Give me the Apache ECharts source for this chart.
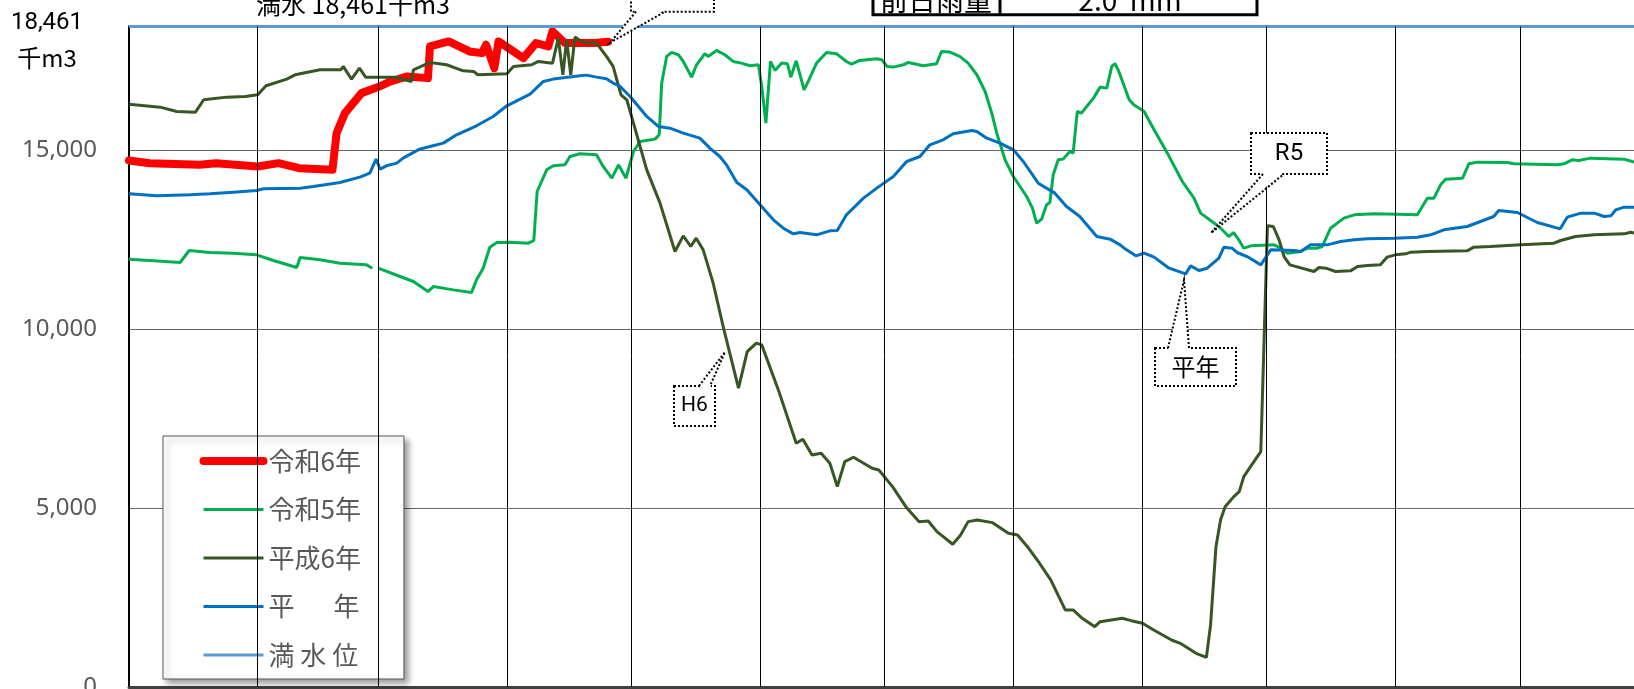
<!DOCTYPE html>
<html>
<head>
<meta charset="utf-8">
<title>貯水量</title>
<script src="https://cdn.jsdelivr.net/npm/echarts/dist/echarts.min.js"></script>
<style>
  html, body { margin: 0; padding: 0; background: #fff; }
  #main { width: 1634px; height: 689px; }
</style>
</head>
<body>
<div id="main"></div>
<script>
// 日（1/1 = 0）と貯水量（千m3）
const fullStorage = 18461;
const monthStarts = [31, 60, 91, 121, 152, 182, 213, 244, 274, 305, 335];
const yTicks = [0, 5000, 10000, 15000];

// 令和6年
const r6Day = [0, 5, 17, 21, 31, 36, 41, 49, 50, 52, 56, 60, 63, 67, 72, 72.5, 77, 82, 85, 86, 88, 89, 95, 98, 101, 102, 105, 112, 115.4];
const r6Val = [14716, 14641, 14595, 14641, 14549, 14641, 14502, 14455, 15480, 16040, 16599, 16767, 16925, 17065, 17018, 17904, 18044, 17764, 17717, 17950, 17298, 18044, 17578, 17997, 17904, 18323, 17997, 17997, 18034];

// 令和5年（2/29 はデータなし）
const r5Day = [0, 5, 12.3, 14.5, 19.5, 25, 30.7, 34.8, 40.4, 41.2, 46, 50.8, 57.2, 58.6, 59.3, 60, 65.3, 68.5, 72, 73.3, 78.1, 82.5, 83.7, 85.3, 86.9, 88.6, 91.8, 96.2, 97.5, 98.3, 100.6, 102.2, 105, 106.2, 108.6, 112.6, 114.2, 116.3, 117.9, 119.7, 121.5, 123.1, 126.7, 127.7, 128.3, 129.5, 130.7, 132.3, 133.5, 135.5, 136.7, 138.7, 139.5, 141.5, 143.5, 145.5, 147.5, 149.6, 151.6, 152.4, 153.4, 154.5, 155.6, 157.2, 158.6, 159.4, 160.7, 162.6, 163.6, 165.6, 168, 170.4, 172.8, 174, 176, 180.1, 181.3, 182.6, 184.1, 186.5, 187.7, 191.3, 194.5, 195.7, 197.7, 200.1, 202.1, 204.2, 206.2, 207.8, 209, 211, 213, 216.2, 217.6, 218.6, 219.8, 221, 221.8, 222.6, 223.8, 225, 226.6, 227.4, 228.4, 229.4, 231, 232.3, 233.9, 235.5, 236.7, 237.5, 238.4, 240.9, 242, 244.5, 246.9, 250.1, 253.7, 256.5, 258.1, 260.5, 262.5, 264.9, 266, 267.3, 268.5, 270.2, 275.8, 277.4, 279, 282.2, 283.8, 286.2, 287.4, 289.4, 292.6, 295.1, 299.9, 305.5, 310.3, 312.7, 314.3, 315.9, 317.1, 321.2, 322.7, 324.8, 332, 333.6, 344.1, 345.6, 347.6, 349.2, 352, 360.1, 362.5];
const r5Val = [11958, 11920, 11864, 12200, 12144, 12125, 12079, 11920, 11725, 12004, 11939, 11846, 11799, 11706, null, 11706, 11473, 11333, 11053, 11193, 11100, 11026, 11380, 11706, 12293, 12424, 12433, 12405, 12480, 13849, 14455, 14567, 14595, 14828, 14903, 14875, 14549, 14222, 14595, 14222, 14968, 15248, 15313, 15434, 16879, 17624, 17736, 17671, 17484, 17046, 17391, 17699, 17624, 17792, 17671, 17484, 17438, 17363, 17391, 16785, 15760, 17484, 17233, 17438, 17419, 17046, 17503, 16692, 16925, 17438, 17736, 17699, 17484, 17410, 17512, 17559, 17531, 17345, 17326, 17391, 17456, 17363, 17419, 17764, 17745, 17624, 17438, 17112, 16645, 16040, 15480, 14735, 14269, 13710, 13384, 12964, 13076, 13477, 13542, 14316, 14735, 14754, 14968, 14921, 16086, 16040, 16273, 16459, 16767, 16739, 17345, 17419, 17205, 16413, 16273, 16086, 15574, 14921, 14129, 13663, 13244, 13039, 12871, 12591, 12703, 12498, 12265, 12330, 12358, 12265, 12125, 12172, 12265, 12265, 12312, 12824, 13104, 13197, 13225, 13216, 13197, 13663, 13663, 14036, 14194, 14222, 14623, 14670, 14660, 14623, 14595, 14623, 14735, 14716, 14782, 14754, 14670];

// 平成6年
const h6Day = [0, 7.5, 11.5, 16, 18, 23.5, 28, 31, 33, 38, 40, 46, 51, 51.6, 53.6, 55.5, 57, 64, 68, 68.5, 72.5, 76.5, 80.5, 83, 84, 91, 92.6, 97, 98.6, 102, 103.4, 104.5, 105.4, 106.4, 107.4, 109.4, 112.6, 115, 116.6, 118.5, 119.9, 124.7, 127.9, 131.5, 133.5, 135.3, 136.6, 138.3, 140.7, 143.2, 146.8, 148.9, 151.1, 152.4, 156.4, 160.7, 162.3, 164.5, 166.7, 168.8, 170.6, 172.4, 174.5, 179, 180.6, 183.9, 187.1, 190.3, 192.5, 194.6, 198.4, 200.3, 202.1, 204.3, 208, 211.8, 214, 216.7, 219.3, 222, 225.5, 227.4, 229.6, 232.6, 233.9, 239.2, 241.4, 244.1, 246.8, 251.1, 253.2, 257, 259.5, 260.5, 261.3, 261.8, 262.9, 264, 266.1, 267.4, 268.5, 270.4, 272.6, 274.2, 275.6, 277, 278.2, 279.6, 285.4, 286.6, 288.3, 290.6, 294.2, 295.9, 298.3, 301.4, 303, 305, 307.5, 308.7, 312.7, 322.3, 323.9, 327.9, 335.2, 343.2, 344.8, 348.4, 352.9, 360.1, 361.7, 362.5];
const h6Val = [16291, 16207, 16086, 16067, 16413, 16487, 16506, 16552, 16804, 16990, 17111, 17251, 17251, 17345, 16990, 17298, 17046, 17046, 16925, 17251, 17456, 17391, 17223, 17205, 17112, 17139, 17345, 17391, 17484, 17437, 18137, 17112, 18090, 17112, 18165, 18016, 17997, 17624, 17345, 16550, 16413, 14455, 13523, 12172, 12610, 12312, 12545, 12219, 11287, 10028, 8352, 9375, 9610, 9562, 8304, 6814, 6926, 6487, 6534, 6254, 5600, 6300, 6422, 6115, 6067, 5600, 5041, 4622, 4641, 4342, 3990, 4250, 4622, 4669, 4594, 4297, 4250, 3878, 3459, 2992, 2153, 2153, 1921, 1686, 1826, 1921, 1854, 1781, 1594, 1314, 1221, 942, 830, 1734, 3084, 3923, 4669, 5041, 5321, 5461, 5880, 6207, 6579, 12890, 12871, 12498, 12032, 11799, 11613, 11725, 11706, 11613, 11631, 11753, 11781, 11799, 12014, 12079, 12107, 12153, 12172, 12191, 12293, 12312, 12358, 12405, 12480, 12591, 12638, 12666, 12712, 12685];

// 平年
const avgDay = [0, 6.7, 14.7, 19.5, 25.1, 30.7, 32.4, 41.2, 44.4, 50.8, 55.6, 58, 59.5, 60.5, 62, 64.5, 66, 70, 72.5, 75.7, 78.9, 83.7, 87.7, 91, 96.6, 99.8, 102.2, 108.6, 110.2, 112.6, 115, 116.6, 118.3, 120.7, 124.7, 127.5, 130.3, 133.5, 137.5, 139.9, 142.3, 143.9, 146.4, 148.8, 152, 155.2, 157.6, 160, 161.6, 165.6, 168.8, 170.6, 172.8, 176.9, 180.1, 184.1, 187.3, 190.5, 192.9, 196.1, 198.5, 203, 204.2, 206.6, 209.8, 213, 215.4, 219, 223, 225.8, 229, 233.1, 236.3, 238.7, 239.7, 242.5, 244.5, 246.9, 250.5, 254.5, 255.7, 257.7, 259.7, 262.5, 263.7, 265.7, 266.9, 269.3, 272.6, 275, 280.6, 282.2, 284.6, 288.6, 291.8, 295.1, 298.3, 304.7, 310.3, 313.5, 316.7, 322.3, 325.5, 328.7, 329.9, 334.4, 339.2, 344.7, 346.4, 349.7, 352.9, 355.3, 356.9, 358.1, 360.1, 362.5];
const avgVal = [13784, 13728, 13756, 13784, 13831, 13877, 13924, 13943, 13989, 14101, 14250, 14362, 14753, 14474, 14567, 14642, 14782, 15033, 15108, 15201, 15434, 15686, 15946, 16245, 16571, 16925, 16991, 17083, 17102, 17046, 17000, 16879, 16785, 16506, 15947, 15667, 15620, 15481, 15341, 15061, 14828, 14595, 14101, 13896, 13477, 13057, 12824, 12666, 12703, 12638, 12750, 12759, 13197, 13663, 13943, 14269, 14688, 14828, 15154, 15294, 15462, 15555, 15527, 15341, 15201, 15015, 14688, 14082, 13803, 13430, 13151, 12591, 12517, 12358, 12265, 12051, 12125, 12014, 11706, 11547, 11771, 11641, 11706, 11986, 12293, 12265, 12144, 12032, 11799, 12219, 12200, 12172, 12358, 12358, 12452, 12498, 12526, 12545, 12573, 12638, 12778, 12871, 13011, 13151, 13318, 13262, 12983, 12806, 13132, 13244, 13244, 13151, 13169, 13337, 13412, 13412];

// 満水位
const fullDay = [0, 366];
const fullVal = [fullStorage, fullStorage];

const toPairs = (days, vals) => days.map((d, i) => [d, vals[i]]);
const fmt = v => v.toLocaleString('en-US');

const jp = 'Noto Sans CJK JP';
const dotted = { stroke: '#000', lineWidth: 2, lineDash: [2, 2] };

// 吹き出し（箱 + 三角）
function callout(box, base, tip, label, font) {
  const inset = base[0][1] === box.y ? 2 : -2;
  return [
    { type: 'rect', z: 100, shape: box, style: Object.assign({ fill: '#fff' }, dotted) },
    {
      type: 'polygon', z: 101,
      shape: { points: [[base[0][0], base[0][1] + inset], tip, [base[1][0], base[1][1] + inset]] },
      style: { fill: '#fff' }
    },
    { type: 'polyline', z: 102, shape: { points: [base[0], tip, base[1]] }, style: Object.assign({ fill: null }, dotted) },
    label ? {
      type: 'text', z: 103, x: box.x + box.width / 2, y: box.y + box.height / 2,
      style: { text: label, fill: '#000', fontSize: font.size, fontFamily: font.family, align: 'center', verticalAlign: 'middle' }
    } : null
  ].filter(Boolean);
}

const chart = echarts.init(document.getElementById('main'));

chart.setOption({
  animation: false,
  grid: { left: 129, top: 26.5, width: 1519.6, height: 660.5, outerBoundsMode: 'none' },
  xAxis: {
    type: 'value', min: 0, max: 366,
    axisLine: { show: true, lineStyle: { color: '#404040', width: 3 } },
    axisTick: { show: false },
    axisLabel: { show: false },
    splitLine: { show: false }
  },
  yAxis: {
    type: 'value', min: 0, max: fullStorage, interval: 5000,
    axisLine: { show: true, lineStyle: { color: '#000', width: 2 } },
    axisTick: { show: false },
    splitLine: { lineStyle: { color: '#666', width: 1 } },
    axisLabel: {
      color: '#595959', fontSize: 24, fontFamily: 'Noto Sans', margin: 32,
      showMaxLabel: false,
      formatter: v => (yTicks.indexOf(v) >= 0 ? fmt(v) : '')
    }
  },
  legend: {
    orient: 'vertical', left: 163, top: 436,
    padding: [12, 43, 11, 36.5],
    itemWidth: 60, itemHeight: 14, itemGap: 22.5,
    backgroundColor: '#fff', borderColor: '#595959', borderWidth: 1,
    shadowBlur: 6, shadowColor: 'rgba(0,0,0,0.4)', shadowOffsetX: 4, shadowOffsetY: 4,
    selectedMode: false,
    itemStyle: { opacity: 0 },
    textStyle: { color: '#595959', fontSize: 26, fontFamily: jp, lineHeight: 24 },
    data: [
      { name: '令和6年', lineStyle: { width: 8, cap: 'round' } },
      { name: '令和5年', lineStyle: { width: 3 } },
      { name: '平成6年', lineStyle: { width: 3 } },
      { name: '平\u3000\u2002年', lineStyle: { width: 3 } },
      { name: '満 水 位', lineStyle: { width: 3 } }
    ]
  },
  series: [
    {
      name: '満 水 位', type: 'line', symbol: 'none', z: 3, color: '#5B9BD5',
      lineStyle: { color: '#5B9BD5', width: 3 },
      data: toPairs(fullDay, fullVal),
      markLine: {
        silent: true, symbol: ['none', 'none'], label: { show: false },
        lineStyle: { color: '#000', width: 1, type: 'solid' },
        data: monthStarts.map(d => ({ xAxis: d }))
      }
    },
    {
      name: '令和6年', type: 'line', symbol: 'none', z: 2, color: '#FF0000',
      lineStyle: { color: '#FF0000', width: 8, cap: 'round', join: 'round' },
      data: toPairs(r6Day, r6Val)
    },
    {
      name: '令和5年', type: 'line', symbol: 'none', z: 3, color: '#00B050',
      lineStyle: { color: '#00B050', width: 3 },
      data: toPairs(r5Day, r5Val)
    },
    {
      name: '平成6年', type: 'line', symbol: 'none', z: 3, color: '#375623',
      lineStyle: { color: '#375623', width: 3 },
      data: toPairs(h6Day, h6Val)
    },
    {
      name: '平\u3000\u2002年', type: 'line', symbol: 'none', z: 3, color: '#0070C0',
      lineStyle: { color: '#0070C0', width: 3 },
      data: toPairs(avgDay, avgVal)
    }
  ],
  graphic: [
    // 縦軸上端の表記
    { type: 'text', z: 100, x: 47, y: 22.5, style: { text: fmt(fullStorage), fill: '#000', fontSize: 24, fontFamily: 'Roboto', align: 'center', verticalAlign: 'middle' } },
    { type: 'text', z: 100, x: 47, y: 57.5, style: { text: '千m3', fill: '#000', fontSize: 24, fontFamily: jp, align: 'center', verticalAlign: 'middle' } },
    { type: 'text', z: 100, x: 353, y: 4, style: { text: '満水 ' + fmt(fullStorage) + '千m3', fill: '#000', fontSize: 25, fontFamily: jp, align: 'center', verticalAlign: 'middle' } },
    // 前日雨量
    { type: 'rect', z: 100, shape: { x: 873, y: -30, width: 384, height: 44.7 }, style: { fill: '#fff', stroke: '#000', lineWidth: 3 } },
    { type: 'line', z: 101, shape: { x1: 1000, y1: -30, x2: 1000, y2: 14.7 }, style: { stroke: '#000', lineWidth: 3 } },
    { type: 'text', z: 102, x: 936, y: 0, style: { text: '前日雨量', fill: '#000', fontSize: 28, fontFamily: jp, align: 'center', verticalAlign: 'middle' } },
    { type: 'text', z: 102, x: 1130, y: 0, style: { text: '2.0  mm', fill: '#000', fontSize: 28, fontFamily: jp, align: 'center', verticalAlign: 'middle' } }
  ]
    .concat(callout({ x: 631, y: -30, width: 83, height: 41.7 }, [[636, 11.7], [665, 11.7]], [610, 42.7], null))
    .concat(callout({ x: 674, y: 386, width: 41, height: 40 }, [[699, 386], [710, 386]], [725, 352], 'H6', { size: 21, family: 'Roboto' }))
    .concat(callout({ x: 1155, y: 348, width: 81, height: 38 }, [[1168, 348], [1189, 348]], [1184, 280], '平年', { size: 24, family: jp }))
    .concat(callout({ x: 1251, y: 133, width: 76, height: 41 }, [[1263, 174], [1284, 174]], [1211, 233], 'R5', { size: 24, family: 'Roboto' }))
});
</script>
</body>
</html>
